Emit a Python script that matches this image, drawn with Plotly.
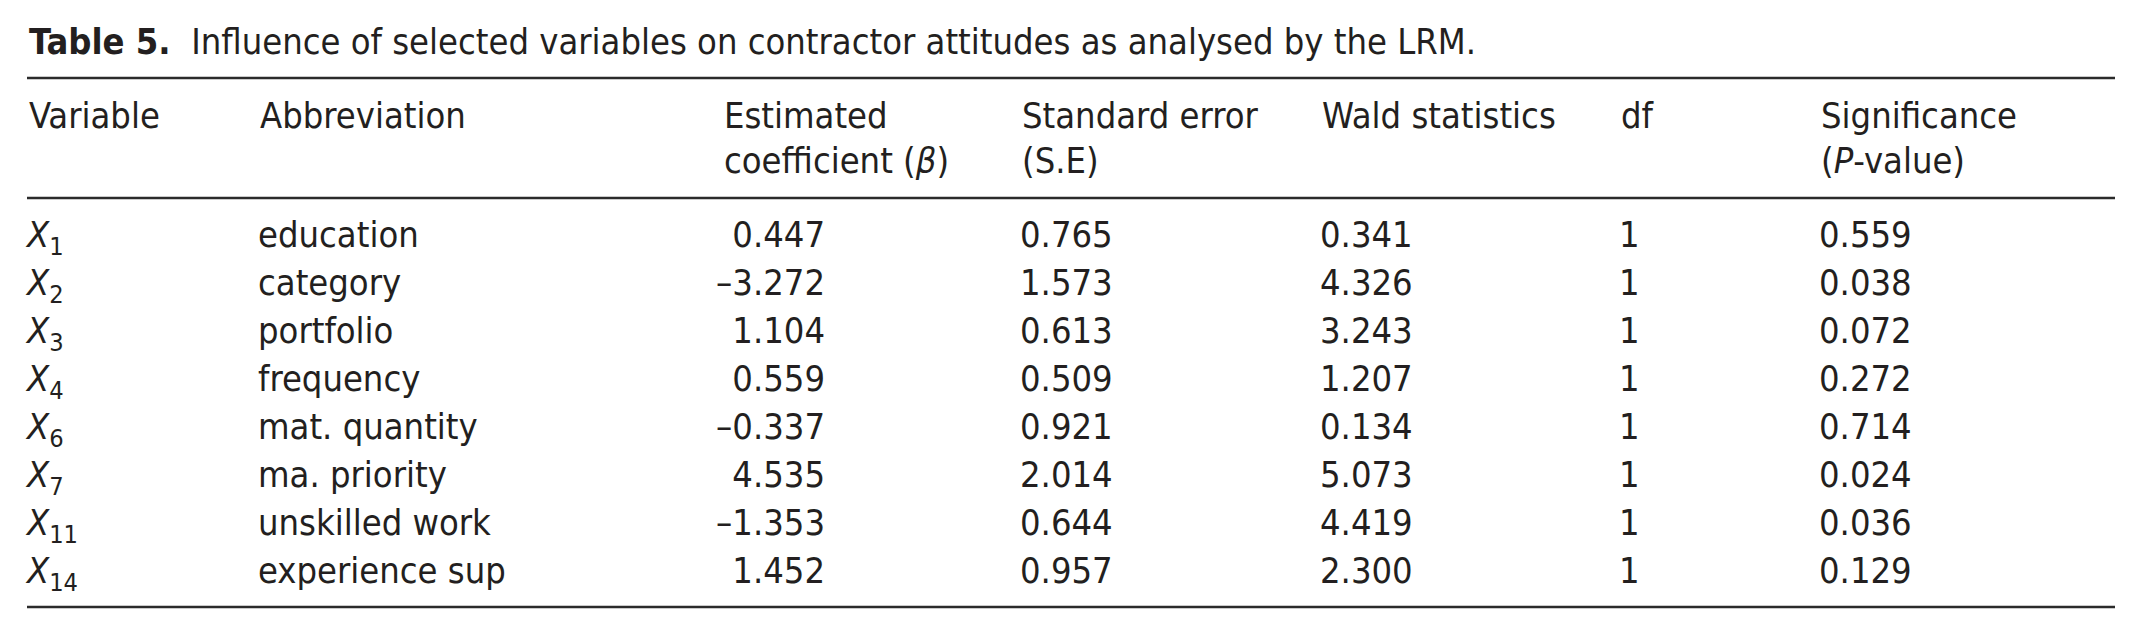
import plotly.graph_objects as go

# table data
variables = ["1", "2", "3", "4", "6", "7", "11", "14"]
abbreviations = ["education", "category", "portfolio", "frequency",
                 "mat. quantity", "ma. priority", "unskilled work", "experience sup"]
coef = [0.447, -3.272, 1.104, 0.559, -0.337, 4.535, -1.353, 1.452]
std_err = [0.765, 1.573, 0.613, 0.509, 0.921, 2.014, 0.644, 0.957]
wald = [0.341, 4.326, 3.243, 1.207, 0.134, 5.073, 4.419, 2.300]
dof = [1, 1, 1, 1, 1, 1, 1, 1]
p_value = [0.559, 0.038, 0.072, 0.272, 0.714, 0.024, 0.036, 0.129]

header_top = ["Variable", "Abbreviation", "Estimated", "Standard error",
              "Wald statistics", "df", "Significance"]
header_bottom = ["", "", "coefficient (<i>β</i>)", "(S.E)", "", "", "(<i>P</i>-value)"]

title = "<b>Table 5.</b>  Influence of selected variables on contractor attitudes as analysed by the LRM."

W, H = 2149, 633
PAD = 8  # default body margin of the page
INK = "#231f20"
FONT = "DejaVu Sans Condensed, Liberation Sans Narrow, Roboto, sans-serif"
FS = 36

# page layout (pixels of the screenshot)
col_x = [27, 258, 722, 1020, 1320, 1619, 1819]
coef_right = 825
row0, row_step = 238, 48
header_y = [115, 160]
title_y = 41
rule_y = [78, 198, 607]


def fmt(v):
    s = f"{abs(v):.3f}"
    return ("–" + s) if v < 0 else s


ys = [row0 + i * row_step for i in range(len(variables))]
font = dict(family=FONT, size=FS, color=INK)

fig = go.Figure()

columns = [
    ([f"<i>X</i><sub>{v}</sub>" for v in variables], col_x[0], "middle right"),
    (abbreviations, col_x[1], "middle right"),
    ([fmt(v) for v in coef], coef_right, "middle left"),
    ([fmt(v) for v in std_err], col_x[3], "middle right"),
    ([fmt(v) for v in wald], col_x[4], "middle right"),
    ([str(v) for v in dof], col_x[5], "middle right"),
    ([fmt(v) for v in p_value], col_x[6], "middle right"),
]
for texts, x, pos in columns:
    fig.add_trace(go.Scatter(
        x=[x] * len(texts), y=ys, mode="text", text=texts,
        textposition=pos, textfont=font,
        hoverinfo="skip", showlegend=False,
    ))

for line, y in zip([header_top, header_bottom], header_y):
    for text, x in zip(line, col_x):
        if text:
            fig.add_annotation(x=x, y=y, xref="x", yref="y", text=text,
                               showarrow=False, xanchor="left", yanchor="middle",
                               font=font)

fig.add_annotation(x=col_x[0], y=title_y, xref="x", yref="y", text=title,
                   showarrow=False, xanchor="left", yanchor="middle", font=font)

for y in rule_y:
    fig.add_shape(type="line", x0=27, x1=2115, y0=y, y1=y, xref="x", yref="y",
                  line=dict(color="#2b2b2b", width=2.5))

fig.update_layout(
    width=W - 2 * PAD, height=H - 2 * PAD,
    margin=dict(l=0, r=0, t=0, b=0),
    plot_bgcolor="white", paper_bgcolor="white",
    xaxis=dict(range=[PAD, W - PAD], visible=False, fixedrange=True),
    yaxis=dict(range=[H - PAD, PAD], visible=False, fixedrange=True),
)

fig.write_html("out.html")
